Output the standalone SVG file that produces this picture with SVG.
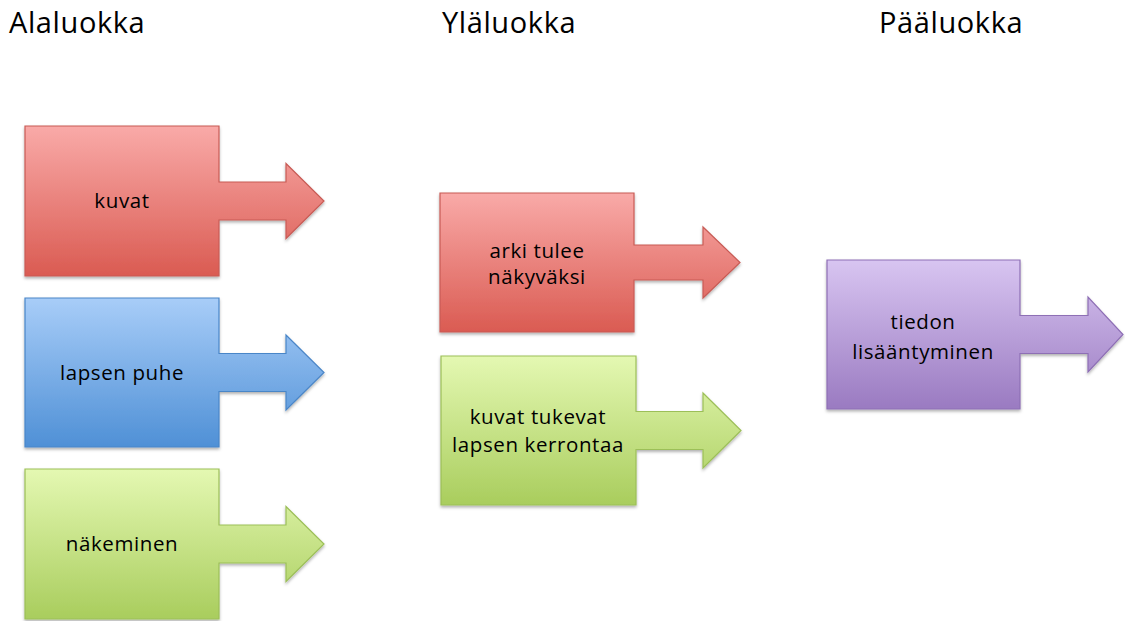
<svg xmlns="http://www.w3.org/2000/svg" width="1125" height="621" viewBox="0 0 1125 621">
<style>
.hdr{font-family:"Open Sans","Liberation Sans",sans-serif;font-size:29px;letter-spacing:0.6px;fill:#000}
.lbl{font-family:"Open Sans","Liberation Sans",sans-serif;font-size:20.5px;letter-spacing:0.6px;fill:#000;text-anchor:middle}
.red{fill:url(#gRed);stroke:#C85B55;stroke-width:1.2}
.blue{fill:url(#gBlue);stroke:#4A86C8;stroke-width:1.2}
.green{fill:url(#gGreen);stroke:#9CBF58;stroke-width:1.2}
.purple{fill:url(#gPurple);stroke:#8E6FB5;stroke-width:1.2}
.shp{filter:url(#sh)}
</style>
<defs>
<linearGradient id="gRed" x1="0" y1="0" x2="0" y2="1"><stop offset="0" stop-color="#F9AAA8"/><stop offset="1" stop-color="#DA5B52"/></linearGradient>
<linearGradient id="gBlue" x1="0" y1="0" x2="0" y2="1"><stop offset="0" stop-color="#A8CDF8"/><stop offset="1" stop-color="#4F90D6"/></linearGradient>
<linearGradient id="gGreen" x1="0" y1="0" x2="0" y2="1"><stop offset="0" stop-color="#E4F8B2"/><stop offset="1" stop-color="#A9CD5D"/></linearGradient>
<linearGradient id="gPurple" x1="0" y1="0" x2="0" y2="1"><stop offset="0" stop-color="#D8C5F1"/><stop offset="1" stop-color="#9A7AC1"/></linearGradient>
<filter id="sh" x="-10%" y="-10%" width="120%" height="125%"><feDropShadow dx="0" dy="2" stdDeviation="1.8" flood-color="#000" flood-opacity="0.3"/></filter>
</defs>
<g id="headers">
<text class="hdr" x="9" y="33">Alaluokka</text>
<text class="hdr" x="442" y="33">Yläluokka</text>
<text class="hdr" x="879" y="33">Pääluokka</text>
</g>
<g id="connectors"></g>
<g id="node-kuvat">
<polygon class="red shp" points="25,126 219,126 219,182 286,182 286,163.5 324,201 286,238.5 286,220 219,220 219,276 25,276"/>
<text class="lbl" x="122" y="208">kuvat</text>
</g>
<g id="node-lapsen-puhe">
<polygon class="blue shp" points="25,298 219,298 219,353.5 286,353.5 286,335 324,372.5 286,410 286,391.5 219,391.5 219,447 25,447"/>
<text class="lbl" x="122" y="380">lapsen puhe</text>
</g>
<g id="node-nakeminen">
<polygon class="green shp" points="25,469 219,469 219,525 286,525 286,506.5 324,544 286,581.5 286,563 219,563 219,619 25,619"/>
<text class="lbl" x="122" y="551">näkeminen</text>
</g>
<g id="node-arki">
<polygon class="red shp" points="440,193 634,193 634,245 703,245 703,227 740,262.5 703,298 703,280 634,280 634,332 440,332"/>
<text class="lbl" x="537" y="258">arki tulee</text>
<text class="lbl" x="537" y="284">näkyväksi</text>
</g>
<g id="node-kuvat-tukevat">
<polygon class="green shp" points="441,356 636,356 636,411.5 703,411.5 703,393 741,430.5 703,468 703,449.5 636,449.5 636,505 441,505"/>
<text class="lbl" x="538" y="424">kuvat tukevat</text>
<text class="lbl" x="538" y="452">lapsen kerrontaa</text>
</g>
<g id="node-tiedon">
<polygon class="purple shp" points="827,260 1020,260 1020,315.5 1088,315.5 1088,297 1123,334.5 1088,372 1088,353.5 1020,353.5 1020,409 827,409"/>
<text class="lbl" x="923" y="329">tiedon</text>
<text class="lbl" x="923" y="359">lisääntyminen</text>
</g>
</svg>
